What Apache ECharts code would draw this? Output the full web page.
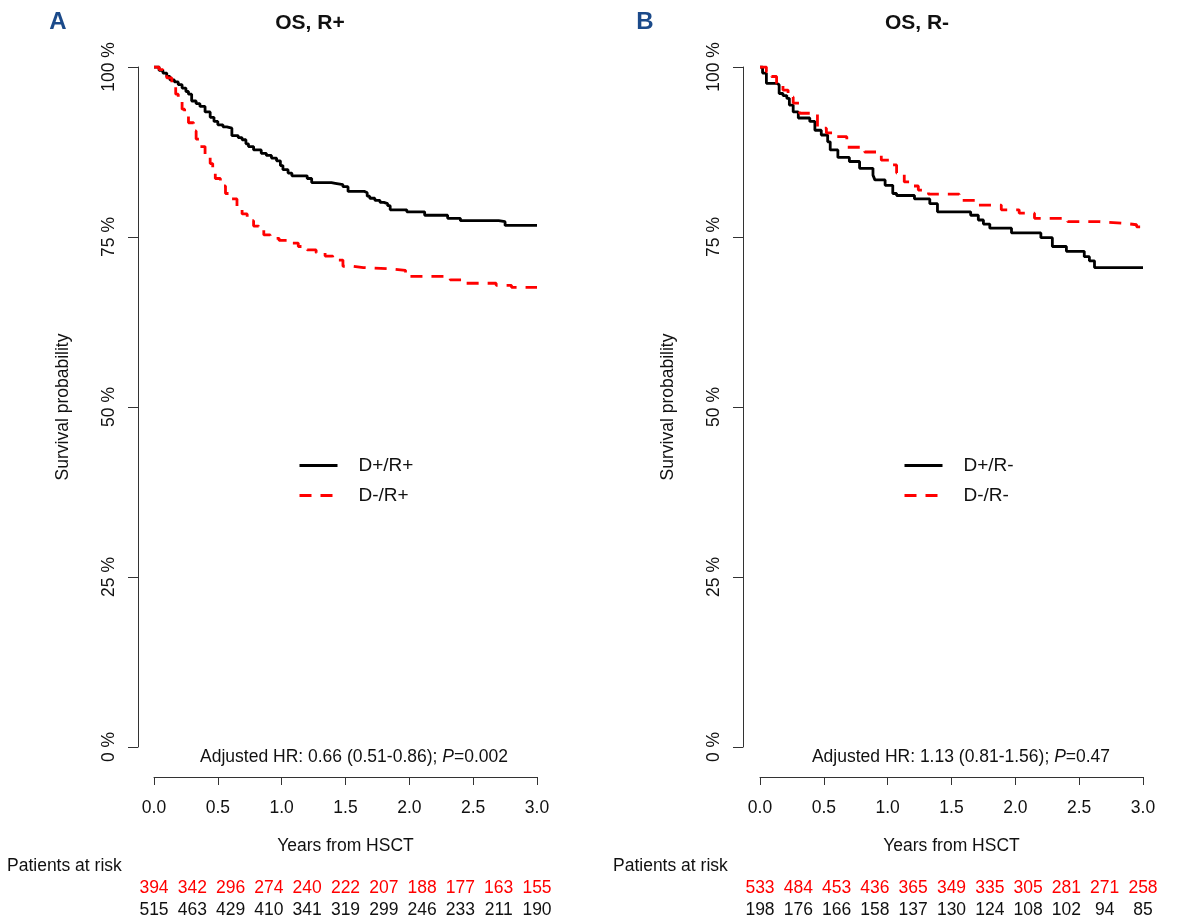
<!DOCTYPE html>
<html>
<head>
<meta charset="utf-8">
<script src="https://cdn.jsdelivr.net/npm/echarts@6/dist/echarts.min.js"></script>
<style>
html,body{margin:0;padding:0;background:#fff;}
#chart{width:1180px;height:924px;}
</style>
</head>
<body>
<div id="chart"></div>
<script>
// ---------- DATA ----------
const xTicks = [0, 0.5, 1.0, 1.5, 2.0, 2.5, 3.0];
const yTicks = [0, 25, 50, 75, 100];

// Panel A: OS, R+
const tDpRp = [0,0.04,0.07,0.10,0.125,0.16,0.19,0.22,0.25,0.27,0.295,0.33,0.36,0.40,0.44,0.47,0.50,0.54,0.57,0.61,0.66,0.69,0.72,0.74,0.78,0.84,0.88,0.92,0.96,0.99,1.01,1.05,1.08,1.20,1.235,1.39,1.42,1.48,1.52,1.65,1.67,1.69,1.73,1.77,1.80,1.83,1.85,1.98,2.12,2.30,2.40,2.70,2.75,3.0];
const sDpRp = [100,99.5,99.1,98.6,98.1,97.8,97.4,96.9,96.4,96.0,95.0,94.6,94.2,93.4,92.6,92.0,91.5,91.2,91.0,89.9,89.6,89.3,88.7,88.3,87.8,87.3,87.0,86.6,86.2,85.5,84.9,84.4,84.0,83.6,83.0,82.9,82.7,82.4,81.7,81.5,81.0,80.7,80.4,80.1,79.9,79.6,79.0,78.7,78.2,77.75,77.4,77.25,76.7,76.7];
const tDmRp = [0,0.04,0.07,0.10,0.14,0.17,0.19,0.22,0.24,0.27,0.31,0.33,0.36,0.40,0.44,0.46,0.48,0.52,0.56,0.60,0.65,0.69,0.73,0.78,0.82,0.86,0.91,0.98,1.06,1.13,1.20,1.27,1.34,1.40,1.48,1.56,1.64,1.87,1.97,2.32,2.44,2.68,2.80,3.0];
const sDmRp = [100,99.6,99.2,98.4,97.1,96.0,95.1,93.8,92.9,91.8,90.6,89.4,88.3,87.0,85.8,84.6,83.6,82.5,81.4,80.6,79.5,78.4,77.4,76.6,76.0,75.3,74.8,74.5,74.1,73.6,73.1,72.7,72.2,71.6,70.7,70.5,70.3,70.1,69.2,68.7,68.2,67.9,67.6,67.6];

// Panel B: OS, R-
const tDpRm = [0,0.02,0.05,0.13,0.15,0.18,0.21,0.23,0.26,0.30,0.39,0.43,0.48,0.53,0.55,0.61,0.70,0.78,0.885,0.90,0.98,1.04,1.07,1.21,1.33,1.39,1.65,1.71,1.75,1.80,1.97,2.20,2.29,2.40,2.54,2.58,2.62,3.0];
const sDpRm = [100,99.1,97.6,97.4,96.1,95.8,95.4,94.4,93.4,92.5,92.0,90.7,90.0,89.0,87.8,86.7,86.1,85.1,84.1,83.4,82.6,81.4,81.1,80.6,79.9,78.7,78.2,77.5,76.9,76.3,75.6,74.9,73.6,72.9,72.1,71.5,70.5,70.5];
const tDmRm = [0,0.05,0.09,0.13,0.18,0.22,0.26,0.31,0.45,0.52,0.585,0.68,0.82,0.95,1.03,1.07,1.13,1.19,1.24,1.32,1.56,1.71,1.89,2.03,2.15,2.41,2.66,2.86,2.95,3.0];
const sDmRm = [100,99.3,98.6,97.6,96.6,95.6,94.7,93.2,91.0,90.3,89.75,88.2,87.5,86.3,85.6,84.4,83.1,82.5,81.9,81.3,80.4,79.7,79.0,78.5,77.75,77.25,77.0,76.8,76.5,76.5];

// Patients at risk (every 0.3 years, 0 to 3.0)
const riskAred   = [394,342,296,274,240,222,207,188,177,163,155];
const riskAblack = [515,463,429,410,341,319,299,246,233,211,190];
const riskBred   = [533,484,453,436,365,349,335,305,281,271,258];
const riskBblack = [198,176,166,158,137,130,124,108,102,94,85];

const seriesNames = ['D+/R+','D-/R+','D+/R-','D-/R-'];
const panelTitles = ['OS, R+','OS, R-'];
const panelLetters = ['A','B'];
const hrTexts = ['Adjusted HR: 0.66 (0.51-0.86); {i|P}=0.002','Adjusted HR: 1.13 (0.81-1.56); {i|P}=0.47'];

// ---------- CHART ----------
const FONT = 'Liberation Sans, Arial, sans-serif';
const FS = 17.5;
const pair = (t, s) => t.map((v, i) => [v, s[i]]);

const gridW = 383, gridTop = 67, gridH = 680;
const gridLefts = [154, 760];

function mainX(gi){
  return {
    gridIndex: gi, type: 'value', min: 0, max: 3, interval: 0.5,
    position: 'bottom', offset: 30,
    name: 'Years from HSCT', nameLocation: 'middle', nameGap: 60,
    nameTextStyle: {fontFamily: FONT, fontSize: FS, color: '#111'},
    axisLine: {show: true, onZero: false, lineStyle: {color: '#333', width: 1}},
    axisTick: {show: true, length: 8, lineStyle: {color: '#333'}},
    axisLabel: {fontFamily: FONT, fontSize: FS, color: '#111', margin: 22, formatter: v => v.toFixed(1)},
    splitLine: {show: false}
  };
}
function mainY(gi, off){
  return {
    gridIndex: gi, type: 'value', min: 0, max: 100, interval: 25,
    position: 'left', offset: off,
    name: 'Survival probability', nameLocation: 'middle', nameGap: 66,
    nameTextStyle: {fontFamily: FONT, fontSize: FS, color: '#111'},
    axisLine: {show: true, onZero: false, lineStyle: {color: '#333', width: 1}},
    axisTick: {show: true, length: 10, lineStyle: {color: '#333'}},
    axisLabel: {fontFamily: FONT, fontSize: FS, color: '#111', rotate: 90, margin: 20, formatter: v => v + ' %'},
    splitLine: {show: false}
  };
}
function riskX(gi, data, color, off){
  return {
    gridIndex: gi, type: 'category', data: data, boundaryGap: false,
    position: 'bottom', offset: off,
    axisLine: {show: false, onZero: false}, axisTick: {show: false}, splitLine: {show: false},
    axisLabel: {interval: 0, fontFamily: FONT, fontSize: FS, color: color, margin: 8}
  };
}
function km(name, xi, t, s, color, dashed){
  return {
    name: name, type: 'line', xAxisIndex: xi, yAxisIndex: xi, step: 'end',
    data: pair(t, s), symbol: 'none', showSymbol: false, color: color,
    lineStyle: {color: color, width: 2.8, type: dashed ? [12, 9] : 'solid'},
    emphasis: {disabled: true}
  };
}
function textEl(x, y, text, opts){
  return {
    type: 'text', x: x, y: y,
    style: Object.assign({
      text: text, fontFamily: FONT, fontSize: FS, fill: '#111',
      align: 'center', verticalAlign: 'middle',
      textAlign: 'center', textVerticalAlign: 'middle'
    }, opts || {})
  };
}
function legendFor(names, left){
  return {
    data: names, orient: 'vertical', left: left, top: 456, padding: 0,
    itemWidth: 38, itemHeight: 14, itemGap: 11, selectedMode: false,
    itemStyle: {opacity: 0},
    lineStyle: {width: 3},
    textStyle: {fontFamily: FONT, fontSize: 19, color: '#111', padding: [0, 0, 0, 16]}
  };
}

const option = {
  animation: false,
  backgroundColor: '#fff',
  grid: [
    {left: gridLefts[0], top: gridTop, width: gridW, height: gridH},
    {left: gridLefts[1], top: gridTop, width: gridW, height: gridH},
    {left: gridLefts[0], top: 870, width: gridW, height: 1},
    {left: gridLefts[1], top: 870, width: gridW, height: 1}
  ],
  xAxis: [
    mainX(0), mainX(1),
    riskX(2, riskAred, '#ff0000', 0), riskX(3, riskBred, '#ff0000', 0),
    riskX(2, riskAblack, '#111', 22), riskX(3, riskBblack, '#111', 22)
  ],
  yAxis: [
    mainY(0, 16), mainY(1, 17),
    {gridIndex: 2, type: 'value', show: false},
    {gridIndex: 3, type: 'value', show: false}
  ],
  legend: [
    legendFor([seriesNames[0], seriesNames[1]], 298),
    legendFor([seriesNames[2], seriesNames[3]], 903)
  ],
  series: [
    km(seriesNames[0], 0, tDpRp, sDpRp, '#000000', false),
    km(seriesNames[1], 0, tDmRp, sDmRp, '#ff0000', true),
    km(seriesNames[2], 1, tDpRm, sDpRm, '#000000', false),
    km(seriesNames[3], 1, tDmRm, sDmRm, '#ff0000', true),
    {type: 'line', xAxisIndex: 2, yAxisIndex: 2, data: [], silent: true},
    {type: 'line', xAxisIndex: 3, yAxisIndex: 3, data: [], silent: true},
    {type: 'line', xAxisIndex: 4, yAxisIndex: 2, data: [], silent: true},
    {type: 'line', xAxisIndex: 5, yAxisIndex: 3, data: [], silent: true}
  ],
  graphic: [
    textEl(58, 22, panelLetters[0], {fontSize: 24, fontWeight: 'bold', fill: '#1b4a8a'}),
    textEl(645, 22, panelLetters[1], {fontSize: 24, fontWeight: 'bold', fill: '#1b4a8a'}),
    textEl(310, 23, panelTitles[0], {fontSize: 21, fontWeight: 'bold'}),
    textEl(917, 23, panelTitles[1], {fontSize: 21, fontWeight: 'bold'}),
    textEl(354, 757, hrTexts[0], {rich: {i: {fontFamily: FONT, fontSize: FS, fontStyle: 'italic', fill: '#111'}}}),
    textEl(961, 757, hrTexts[1], {rich: {i: {fontFamily: FONT, fontSize: FS, fontStyle: 'italic', fill: '#111'}}}),
    textEl(7, 866, 'Patients at risk', {align: 'left', textAlign: 'left'}),
    textEl(613, 866, 'Patients at risk', {align: 'left', textAlign: 'left'})
  ]
};

const chart = echarts.init(document.getElementById('chart'), null, {renderer: 'canvas'});
chart.setOption(option);
</script>
</body>
</html>
